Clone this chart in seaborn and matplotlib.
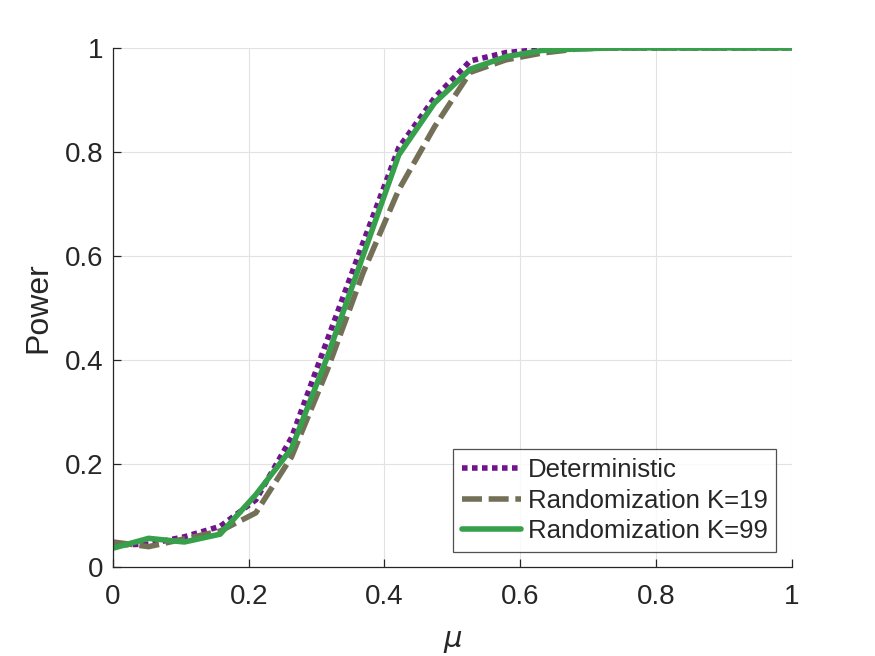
import numpy as np
import pandas as pd
import matplotlib
matplotlib.use('Agg')
import matplotlib.pyplot as plt
import seaborn as sns

# mu values (20 equally spaced points between 0 and 1)
mu = np.linspace(0, 1, 20)

# Power curves
deterministic = [0.043, 0.045, 0.059, 0.079, 0.130, 0.250, 0.438, 0.625, 0.808, 0.904,
                 0.975, 0.991, 0.997, 1.0, 1.0, 1.0, 1.0, 1.0, 1.0, 1.0]
rand_k19 = [0.049, 0.040, 0.055, 0.070, 0.105, 0.213, 0.380, 0.567, 0.727, 0.848,
            0.953, 0.977, 0.990, 0.998, 1.0, 1.0, 1.0, 1.0, 1.0, 1.0]
rand_k99 = [0.037, 0.056, 0.049, 0.064, 0.140, 0.229, 0.405, 0.600, 0.794, 0.894,
            0.959, 0.983, 0.995, 0.998, 1.0, 1.0, 1.0, 1.0, 1.0, 1.0]

labels = ['Deterministic', 'Randomization K=19', 'Randomization K=99']
colors = ['#72138e', '#737057', '#36a04b']

df = pd.concat([
    pd.DataFrame({'mu': mu, 'Power': deterministic, 'Method': labels[0]}),
    pd.DataFrame({'mu': mu, 'Power': rand_k19, 'Method': labels[1]}),
    pd.DataFrame({'mu': mu, 'Power': rand_k99, 'Method': labels[2]}),
], ignore_index=True)

sns.set_style('white')
plt.rcParams['font.family'] = ['Liberation Sans', 'DejaVu Sans']

fig = plt.figure(figsize=(8.75, 6.56), dpi=100)
ax = fig.add_axes([0.129, 0.135, 0.776, 0.792])

sns.lineplot(data=df, x='mu', y='Power', hue='Method', style='Method',
             palette=dict(zip(labels, colors)),
             dashes={labels[0]: (1, 0.8), labels[1]: (3.6, 1.2), labels[2]: ''},
             linewidth=4, ax=ax)

ticks = [0, 0.2, 0.4, 0.6, 0.8, 1]
tick_labels = ['0', '0.2', '0.4', '0.6', '0.8', '1']
ax.set_xlim(0, 1)
ax.set_ylim(0, 1)
ax.set_xticks(ticks)
ax.set_xticklabels(tick_labels)
ax.set_yticks(ticks)
ax.set_yticklabels(tick_labels)
ax.grid(True, color='#e2e2e2', linewidth=0.8)
ax.set_axisbelow(True)
for side in ['top', 'right']:
    ax.spines[side].set_visible(False)
for side in ['left', 'bottom']:
    ax.spines[side].set_color('#262626')
    ax.spines[side].set_linewidth(0.9)
ax.tick_params(direction='in', length=6, width=0.9, labelsize=20,
               colors='#262626', left=True, bottom=True)
ax.tick_params(axis='x', pad=12)
ax.tick_params(axis='y', pad=7)
ax.set_xlabel(r'$\mu$', fontsize=21, color='#262626', labelpad=12)
ax.set_ylabel('Power', fontsize=23, color='#262626', labelpad=8)

leg = ax.legend(loc='lower right', fontsize=18.5, frameon=True, fancybox=False,
                edgecolor='#262626', handlelength=2.3, borderaxespad=0.6,
                labelspacing=0.25, handletextpad=0.25, borderpad=0.35)
leg.get_frame().set_linewidth(0.9)

fig.savefig('out.png', dpi=100)
